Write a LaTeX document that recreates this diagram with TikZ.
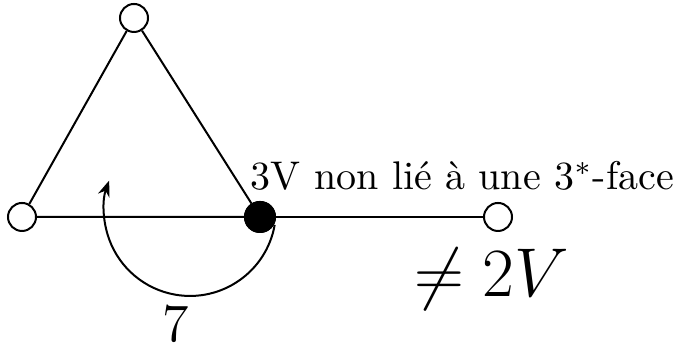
\documentclass[tikz,border=0pt]{standalone}
\usetikzlibrary{arrows.meta}
\begin{document}
\begin{tikzpicture}[x=0.25pt,y=0.25pt,line width=0.5pt,
  openv/.style={circle,draw,fill=white,minimum size=7pt,inner sep=0pt},
  fullv/.style={circle,draw,fill=black,minimum size=7.5pt,inner sep=0pt},
  lbl/.style={inner sep=0pt},
  big/.style={font=\fontsize{16}{19}\selectfont}]
\useasboundingbox (0,0) rectangle (687,348);
\coordinate (arcstart) at (274.7,123.1);
\draw[-{Stealth[length=4pt,width=3pt]}] (arcstart) arc[start angle=-10,end angle=-200,radius=21.5pt];
\node[openv] (T) at (134,330) {};
\node[openv] (L) at (22,131) {};
\node[fullv] (B) at (260,131) {};
\node[openv] (R) at (498,131) {};
\draw (L) -- (T) -- (B) -- (L);
\draw (B) -- (R);
\node[fullv] at (B) {};
\node[lbl,anchor=base west] (t1) at (250,158) {3V non lié à une 3$^*$-face};
\node[lbl,anchor=base west,big] (t2) at (413,51) {$\neq 2V$};
\node[lbl,anchor=base,font=\fontsize{13.5}{16}\selectfont] (t3) at (176,6) {7};
\end{tikzpicture}
\end{document}
